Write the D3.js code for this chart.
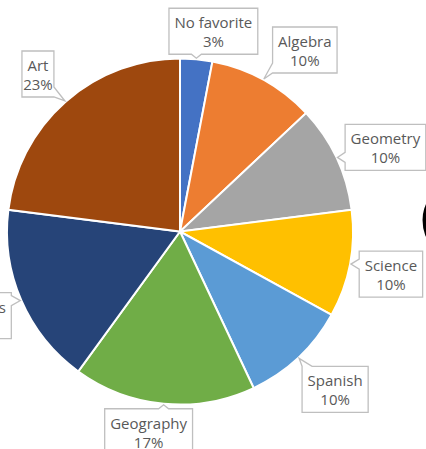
<html>
<head>
<meta charset="utf-8">
<title>Favorite subject pie</title>
<style>
  body { margin: 0; background: #fff; }
</style>
</head>
<body>
<script src="https://cdn.jsdelivr.net/npm/d3@7/dist/d3.min.js"></script>
<script>

// data
var subjects = ["No favorite", "Algebra", "Geometry", "Science", "Spanish", "Geography", "Physics", "Art"];
var percents = [3, 10, 10, 10, 10, 17, 17, 23];
var sliceColors = ["#4472C4", "#ED7D31", "#A5A5A5", "#FFC000", "#5B9BD5", "#70AD47", "#264478", "#9E480E"];

// where each callout box sits, relative to the point on the rim (layout only)
var labelShift = [[17, -27], [41, -29], [48, -10], [40, 10], [36, 31], [-15, 27], [-40, 15], [-27, -27]];

var width = 426;
var height = 449;
var cx = 180, cy = 231.5, radius = 173;

var svg = d3.select("body")
	.append("svg")
	.attr("width", width)
	.attr("height", height);

var color = d3.scaleOrdinal().domain(subjects).range(sliceColors);

var pie = d3.pie()
	.sort(null)
	.value(function(d, i){ return percents[i]; });

var arcs = pie(subjects);

var arc = d3.arc().innerRadius(0).outerRadius(radius);
var rimArc = d3.arc().innerRadius(radius + 1).outerRadius(radius + 1);

var g = svg.append("g").attr("transform", "translate(" + cx + "," + cy + ")");

// slices
g.selectAll("path.slice")
	.data(arcs)
	.enter()
	.append("path")
	.attr("class", "slice")
	.attr("d", arc)
	.attr("fill", function(d){ return color(d.data); })
	.attr("stroke", "#fff")
	.attr("stroke-width", 2);

// box with a little tail pointing at (ax, ay)
function calloutPath(x0, y0, x1, y1, ax, ay){
	var ox = ax < x0 ? x0 - ax : (ax > x1 ? ax - x1 : 0);
	var oy = ay < y0 ? y0 - ay : (ay > y1 ? ay - y1 : 0);
	var t = 5, c, pts;
	function clamp(v, a, b){ return Math.max(a, Math.min(b, v)); }
	if (ox > oy) {
		c = clamp(ay, y0 + t, y1 - t);
		if (ax < x0) pts = [[x0, y0], [x1, y0], [x1, y1], [x0, y1], [x0, c + t], [ax, ay], [x0, c - t]];
		else pts = [[x0, y0], [x1, y0], [x1, c - t], [ax, ay], [x1, c + t], [x1, y1], [x0, y1]];
	} else {
		c = clamp(ax, x0 + t, x1 - t);
		if (ay < y0) pts = [[x0, y0], [c - t, y0], [ax, ay], [c + t, y0], [x1, y0], [x1, y1], [x0, y1]];
		else pts = [[x0, y0], [x1, y0], [x1, y1], [c + t, y1], [ax, ay], [c - t, y1], [x0, y1]];
	}
	return "M" + pts.join("L") + "Z";
}

// callout labels
var labels = g.selectAll("g.label")
	.data(arcs)
	.enter()
	.append("g")
	.attr("class", "label");

labels.each(function(d, i){
	var sel = d3.select(this);
	var p = rimArc.centroid(d);
	var bx = p[0] + labelShift[i][0];
	var by = p[1] + labelShift[i][1];
	var box = sel.append("path");
	var t1 = sel.append("text")
		.attr("x", bx).attr("y", by - 3)
		.attr("text-anchor", "middle")
		.attr("font-family", "Open Sans, sans-serif")
		.attr("font-size", "15px")
		.attr("fill", "#595959")
		.text(d.data);
	sel.append("text")
		.attr("x", bx).attr("y", by + 16)
		.attr("text-anchor", "middle")
		.attr("font-family", "Open Sans, sans-serif")
		.attr("font-size", "15px")
		.attr("fill", "#595959")
		.text(percents[i] + "%");
	var w = t1.node().getComputedTextLength() + 11;
	var h = 46;
	box.attr("d", calloutPath(bx - w / 2, by - h / 2, bx + w / 2, by + h / 2, p[0], p[1]))
		.attr("fill", "#fff")
		.attr("stroke", "#BFBFBF")
		.attr("stroke-width", 1.3);
});

// piece of a big heading cut off at the right edge
svg.append("text")
	.attr("x", 418)
	.attr("y", 248)
	.attr("font-family", "Open Sans, sans-serif")
	.attr("font-weight", "bold")
	.attr("font-size", "78px")
	.attr("fill", "#000")
	.text("C");

</script>
</body>
</html>
